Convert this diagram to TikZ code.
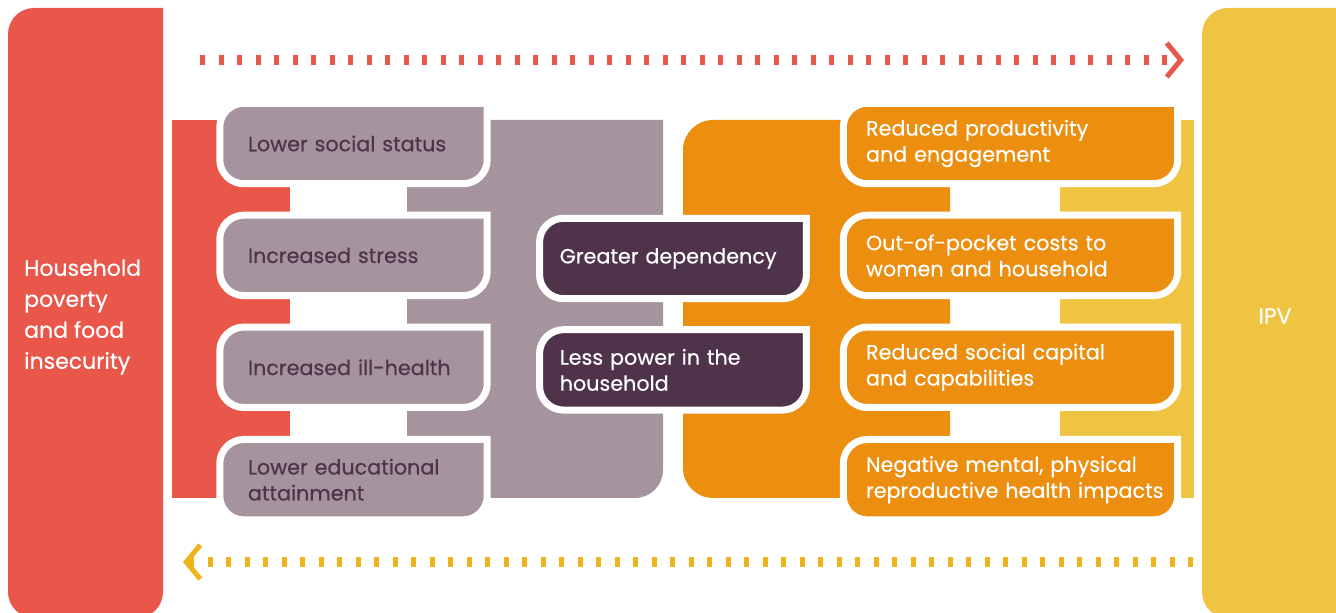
\documentclass[tikz,border=0pt]{standalone}
\usepackage{fontspec}
\setmainfont{Poppins}[FakeBold=0.4]
\usetikzlibrary{calc, positioning, arrows.meta, backgrounds}
\definecolor{barred}{HTML}{E9574B}
\definecolor{mauve}{HTML}{A5939D}
\definecolor{plum}{HTML}{4E334A}
\definecolor{amber}{HTML}{EC8E0F}
\definecolor{sand}{HTML}{F0C443}
\definecolor{dotgold}{HTML}{EEB41C}
\pgfdeclarelayer{tabs}
\pgfsetlayers{background,tabs,main}
% tab shape behind a node: only the top right corner is square
\newcommand{\tabbox}[2]{%
  \filldraw[fill=#1, draw=white, line width=7pt]
    (#2.north east) -- ($(#2.north west)+(24pt,0)$)
    arc[start angle=90, end angle=180, radius=24pt]
    -- ($(#2.south west)+(0,24pt)$)
    arc[start angle=180, end angle=270, radius=24pt]
    -- ($(#2.south east)+(-24pt,0)$)
    arc[start angle=270, end angle=360, radius=24pt] -- cycle;}

\begin{document}
\begin{tikzpicture}[x=1pt, y=1pt,
    tab/.style={minimum height=80pt, inner ysep=0pt, align=left,
      font=\fontsize{20.7}{26}\selectfont},
    greytab/.style={tab, minimum width=267pt, text width=211pt, inner xsep=28pt, text=plum},
    darktab/.style={tab, minimum width=266.5pt, text width=226.5pt, inner xsep=20pt, text=white},
    ambertab/.style={tab, minimum width=334pt, text width=289pt, inner xsep=22.5pt, text=white},
    bartext/.style={text=white, align=left, inner sep=0pt, font=\fontsize{22}{31}\selectfont},
    dots/.style={line width=10pt, dash pattern=on 5pt off 13.5pt}]
  \useasboundingbox (0,0) rectangle (1336,613);

  % left column
  \node[greytab] (status) at (353.5,469.5) {Lower social status};
  \node[greytab, below=31.5pt of status] (stress) {Increased stress};
  \node[greytab, below=31.5pt of stress] (illhealth) {Increased ill-health};
  \node[greytab, below=32pt of illhealth] (education) {Lower educational\\attainment};

  % middle
  \node[darktab] (dependency) at (673,354.5) {Greater dependency};
  \node[darktab, below=31pt of dependency] (power) {Less power in the\\household};

  % right column
  \node[ambertab] (productivity) at (1010.5,469.5) {Reduced productivity\\and engagement};
  \node[ambertab, below=31.5pt of productivity] (costs) {Out-of-pocket costs to\\women and household};
  \node[ambertab, below=31.5pt of costs] (capital) {Reduced social capital\\and capabilities};
  \node[ambertab, below=32pt of capital] (impacts) {Negative mental, physical\\\mbox{reproductive health impacts}};

  % end bars
  \node[bartext, anchor=west] (poverty) at (24,296) {Household\\poverty\\and food\\insecurity};
  \node[bartext] (ipv) at (1275,297) {IPV};

  \begin{pgfonlayer}{tabs}
    \foreach \n in {status, stress, illhealth, education}
      \tabbox{mauve}{\n};
    \foreach \n in {dependency, power}
      \tabbox{plum}{\n};
    \foreach \n in {productivity, costs, capital, impacts}
      \tabbox{amber}{\n};
  \end{pgfonlayer}

  \begin{pgfonlayer}{background}
    \fill[barred] (163,605) -- (34,605) arc[start angle=90, end angle=180, radius=26pt]
      -- (8,21) arc[start angle=180, end angle=270, radius=26pt]
      -- (137,-5) arc[start angle=270, end angle=360, radius=26pt] -- cycle;
    \fill[sand] (1360,605) -- (1228,605) arc[start angle=90, end angle=180, radius=26pt]
      -- (1202,21) arc[start angle=180, end angle=270, radius=26pt]
      -- (1360,-5) -- cycle;
    \fill[barred] (172,115) rectangle (290,493);
    \fill[mauve] (407,115) -- (407,493) -- (663,493) -- (663,143)
      arc[start angle=0, end angle=-90, radius=28pt] -- cycle;
    \fill[amber] (950,493) -- (713,493) arc[start angle=90, end angle=180, radius=30pt]
      -- (683,145) arc[start angle=180, end angle=270, radius=30pt] -- (950,115) -- cycle;
    \fill[sand] (1060,115) rectangle (1194,493);
  \end{pgfonlayer}

  % dotted arrows
  \coordinate (fwdstart) at (200,553);
  \coordinate (fwdend) at (1184,553);
  \coordinate (backstart) at (1193,51);
  \coordinate (backend) at (183,51);
  \draw[barred, dots, -{Straight Barb[length=14pt, width=34pt, line width=5pt]}] (fwdstart) -- (fwdend);
  \draw[dotgold, dots, -{Straight Barb[length=14pt, width=34pt, line width=5pt]}] (backstart) -- (backend);
\end{tikzpicture}
\end{document}
